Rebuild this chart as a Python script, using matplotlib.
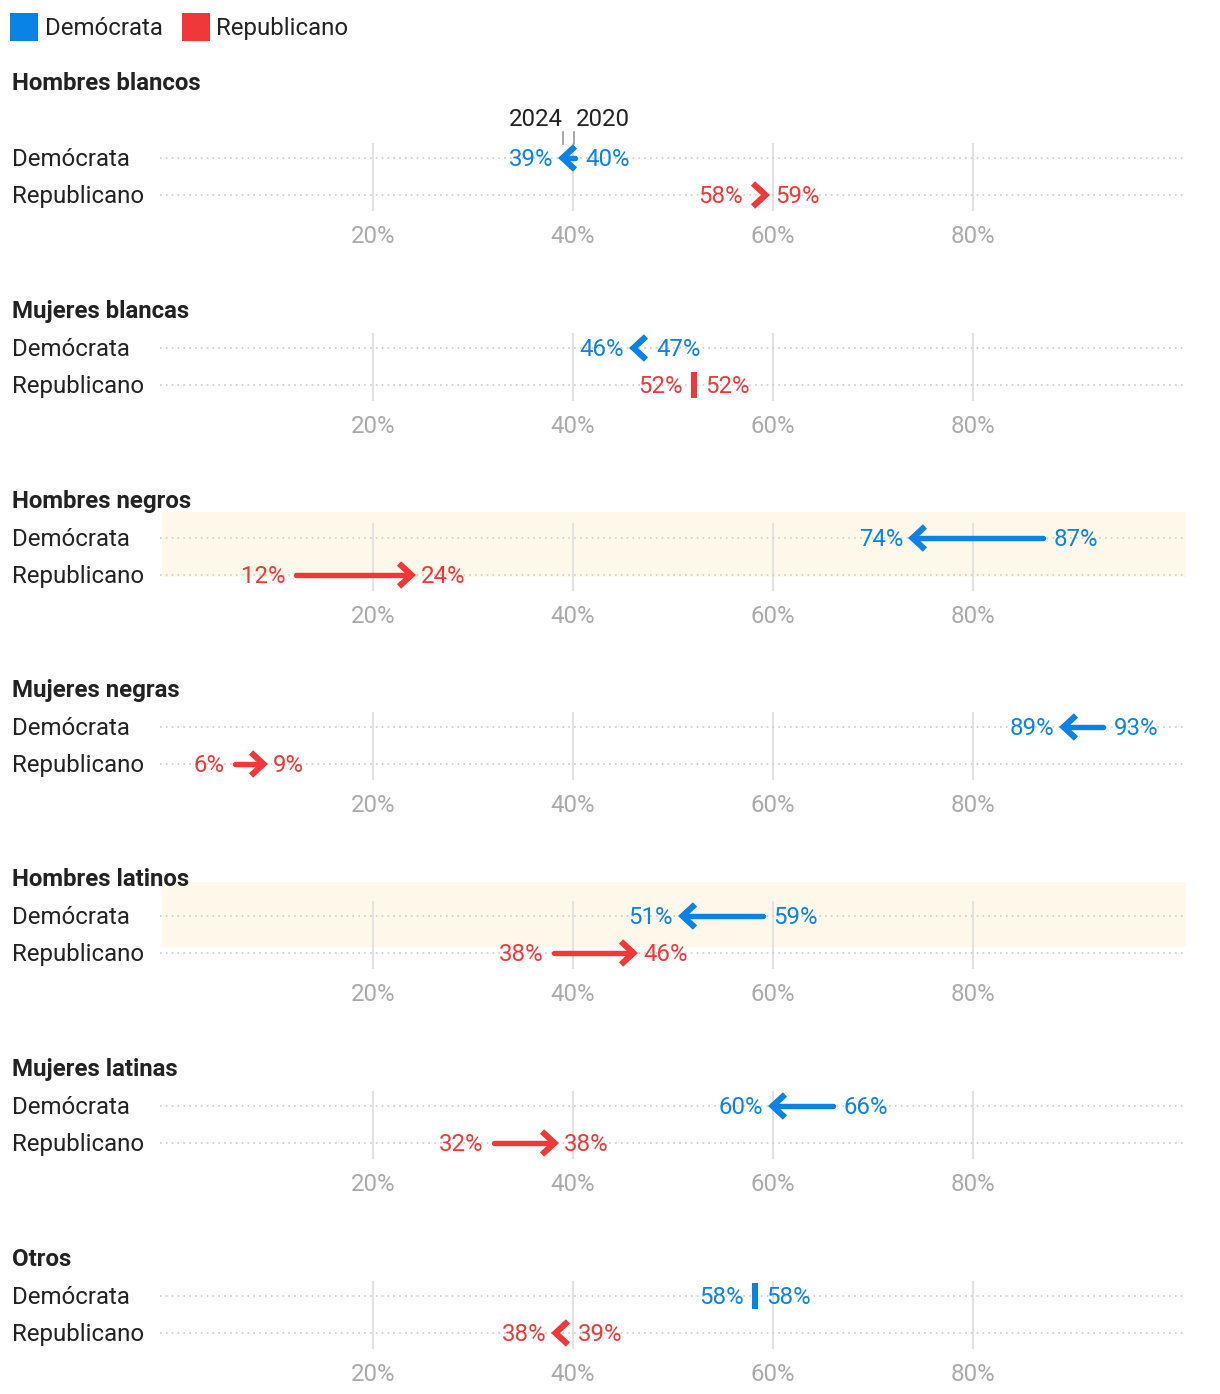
import numpy as np
import matplotlib.pyplot as plt
from matplotlib.patches import Rectangle

plt.rcParams['font.family'] = ['Roboto', 'DejaVu Sans']

# Datos (porcentaje de voto, 2020 -> 2024)
grupos = ['Hombres blancos', 'Mujeres blancas', 'Hombres negros', 'Mujeres negras',
          'Hombres latinos', 'Mujeres latinas', 'Otros']
partidos = ['Demócrata', 'Republicano']
dem_2020 = [40.2, 47.3, 87.0, 93.0, 59.0, 66.0, 58.2]
dem_2024 = [38.8, 45.9, 73.8, 88.9, 50.8, 59.8, 58.2]
rep_2020 = [58.3, 52.1, 12.3, 6.2, 38.1, 32.1, 39.4]
rep_2024 = [59.4, 52.1, 24.0, 9.2, 46.2, 38.3, 38.1]
ticks = [20, 40, 60, 80]
resaltados = ['Hombres negros', 'Hombres latinos']

AZUL = '#0a82e6'
ROJO = '#f03838'
TXT = '#222222'
GRIS = '#aaaaaa'
FS = 17.3
DY = 1.5  # ajuste vertical del texto

W, H = 1220, 1394
fig = plt.figure(figsize=(W / 100, H / 100), dpi=100)
ax = fig.add_axes([0, 0, 1, 1])
# eje x en %, eje y en pixeles (0% en x=173 px, 10 px por punto)
x0_px, px_pct = 173, 10.0
ax.set_xlim(-x0_px / px_pct, (W - x0_px) / px_pct)
ax.set_ylim(H, 0)
ax.axis('off')

def px(n):
    return n / px_pct  # pixeles horizontales -> %

def texto(x, y, s, **kw):
    ax.text(x, y + DY, s, fontsize=FS, va='center', **kw)

# Leyenda
ax.add_patch(Rectangle((px(10 - x0_px), 13), px(28), 28, color=AZUL, lw=0))
texto(px(45 - x0_px), 27, 'Demócrata', color=TXT)
ax.add_patch(Rectangle((px(182 - x0_px), 13), px(28), 28, color=ROJO, lw=0))
texto(px(216 - x0_px), 27, 'Republicano', color=TXT)

titulo_y = [82, 310, 500, 689, 878, 1068, 1258]
bandas = {'Hombres negros': (12, 77), 'Hombres latinos': (4, 69)}
x_izq, x_der = px(160 - x0_px), px(1186 - x0_px)
cab_l, cab_h = px(14), 11.5  # cabeza de flecha


def flecha(v0, v1, y, color):
    d = np.sign(v1 - v0)
    if abs(v1 - v0) < 0.05:
        ax.add_patch(Rectangle((v1 - px(3), y - 13), px(6), 26, color=color, lw=0, zorder=4))
        return v1 - px(3), v1 + px(3)
    if abs(v1 - v0) > cab_l:
        ax.plot([v0, v1 - d * px(4)], [y, y], color=color, lw=3.9,
                solid_capstyle='round', zorder=4)
    ax.plot([v1 - d * cab_l, v1 - d * px(1.5), v1 - d * cab_l], [y - cab_h, y, y + cab_h],
            color=color, lw=4.4, solid_joinstyle='miter', solid_capstyle='butt', zorder=4)
    extremos = [v1, v1 - d * (cab_l + px(2)), v0 - d * px(2.5)]
    return min(extremos), max(extremos)


for i, g in enumerate(grupos):
    ty = titulo_y[i]
    y_dem = ty + (76 if i == 0 else 38)
    y_rep = y_dem + 37
    y_tick = y_rep + 40

    if g in resaltados:
        b0, b1 = bandas[g]
        ax.add_patch(Rectangle((px(162 - x0_px), ty + b0), x_der - px(162 - x0_px), b1 - b0,
                               color='#fef8ea', lw=0, zorder=0))

    texto(px(12 - x0_px), ty, g, fontweight='bold', color=TXT)

    for t in ticks:
        ax.plot([t, t], [y_dem - 14, y_rep + 15], color='#e2e2e2', lw=1.5, zorder=1)
        texto(t, y_tick, f'{t}%', color=GRIS, ha='center')

    filas = [(partidos[0], y_dem, dem_2020[i], dem_2024[i], AZUL),
             (partidos[1], y_rep, rep_2020[i], rep_2024[i], ROJO)]
    for nombre, y, v0, v1, c in filas:
        texto(px(12 - x0_px), y, nombre, color=TXT)
        ax.plot([x_izq, x_der], [y, y], color='#cccccc', lw=1.2, ls=(0, (1, 2.5)), zorder=1)
        lo, hi = flecha(v0, v1, y, c)
        a, b = sorted([v0, v1])
        texto(lo - px(8), y, f'{round(a)}%', color=c, ha='right', zorder=5)
        texto(hi + px(8), y, f'{round(b)}%', color=c, ha='left', zorder=5)

    if i == 0:
        # marcas de año sobre la primera fila
        ax.plot([dem_2024[0] + px(2), dem_2024[0] + px(2)], [132, 144], color='#999999', lw=1.2)
        ax.plot([dem_2020[0] - px(1), dem_2020[0] - px(1)], [132, 144], color='#999999', lw=1.2)
        texto(dem_2024[0] + px(2), 118, '2024', color=TXT, ha='right')
        texto(dem_2020[0] + px(1), 118, '2020', color=TXT, ha='left')

fig.savefig('out.png', dpi=100)
